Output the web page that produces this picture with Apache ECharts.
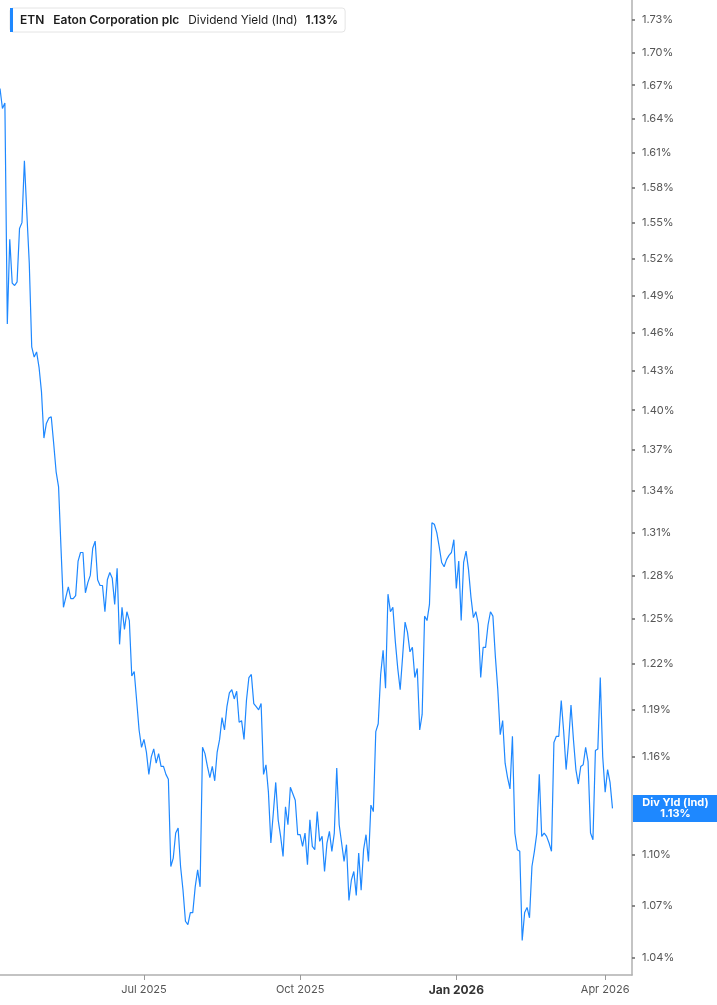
<!DOCTYPE html>
<html><head><meta charset="utf-8">
<script src="https://cdn.jsdelivr.net/npm/echarts@6/dist/echarts.min.js"></script>
<style>html,body{margin:0;padding:0;background:#fff}#c{width:717px;height:1005px}</style>
</head><body><div id="c"></div>
<script>
// ---- data ----
const startDate = [2025, 3, 4]; // first trading day shown (Apr 4 2025)
const holidays = ['2025-04-18','2025-05-26','2025-06-19','2025-07-04','2025-09-01','2025-11-27','2025-12-25','2026-01-01','2026-01-19','2026-02-16','2026-04-03'];
const extraDays = 8; // axis continues a few sessions past the last value
const values = [
1.667,1.649,1.654,1.467,1.536,1.500,1.498,1.501,1.545,1.550,
1.603,1.558,1.516,1.449,1.441,1.445,1.433,1.414,1.379,1.390,
1.394,1.395,1.375,1.354,1.343,1.299,1.258,1.265,1.272,1.264,
1.264,1.266,1.290,1.296,1.296,1.268,1.275,1.280,1.299,1.304,
1.277,1.273,1.273,1.255,1.277,1.282,1.278,1.260,1.285,1.233,
1.258,1.243,1.255,1.249,1.212,1.215,1.196,1.177,1.166,1.171,
1.163,1.149,1.160,1.165,1.156,1.162,1.154,1.154,1.149,1.146,
1.093,1.098,1.113,1.116,1.093,1.079,1.061,1.059,1.066,1.066,
1.081,1.091,1.081,1.166,1.162,1.154,1.147,1.154,1.145,1.163,
1.171,1.185,1.177,1.192,1.201,1.203,1.197,1.202,1.182,1.183,
1.171,1.196,1.211,1.213,1.194,1.192,1.190,1.194,1.149,1.155,
1.138,1.107,1.125,1.144,1.121,1.111,1.099,1.129,1.118,1.141,
1.137,1.133,1.112,1.112,1.105,1.113,1.094,1.121,1.105,1.103,
1.126,1.108,1.111,1.090,1.107,1.114,1.102,1.113,1.153,1.118,
1.107,1.096,1.106,1.073,1.085,1.090,1.076,1.101,1.079,1.103,
1.112,1.096,1.130,1.126,1.176,1.181,1.213,1.229,1.204,1.267,
1.255,1.258,1.235,1.217,1.203,1.225,1.248,1.241,1.228,1.231,
1.211,1.217,1.177,1.187,1.252,1.249,1.260,1.317,1.316,1.310,
1.300,1.289,1.286,1.291,1.294,1.296,1.305,1.271,1.290,1.249,
1.289,1.297,1.284,1.265,1.251,1.255,1.247,1.211,1.231,1.231,
1.246,1.255,1.252,1.225,1.203,1.174,1.183,1.156,1.147,1.140,
1.173,1.113,1.103,1.102,1.050,1.066,1.069,1.063,1.093,1.102,
1.113,1.149,1.111,1.113,1.111,1.107,1.102,1.169,1.173,1.173,
1.196,1.176,1.152,1.169,1.193,1.171,1.152,1.143,1.154,1.155,
1.166,1.157,1.113,1.109,1.164,1.165,1.211,1.160,1.138,1.152,
1.144,1.128
];
const yTicks = [1.04,1.07,1.10,1.16,1.19,1.22,1.25,1.28,1.31,1.34,1.37,1.40,1.43,1.46,1.49,1.52,1.55,1.58,1.61,1.64,1.67,1.70,1.73];
const yMin = 1.0305, yMax = 1.749;
const quarterMonths = [0, 3, 6, 9];
const monthNames = ['Jan','Feb','Mar','Apr','May','Jun','Jul','Aug','Sep','Oct','Nov','Dec'];
const tickerText = 'ETN', companyText = 'Eaton Corporation plc', metricText = 'Dividend Yield (Ind)';
const tagTitle = 'Div Yld (Ind)';

// ---- build ----
function pad(n){return n<10?'0'+n:''+n;}
function tradingDays(start, count){
  const out=[]; const d=new Date(Date.UTC(start[0],start[1],start[2]));
  while(out.length<count){
    const wd=d.getUTCDay();
    const s=d.getUTCFullYear()+'-'+pad(d.getUTCMonth()+1)+'-'+pad(d.getUTCDate());
    if(wd!==0&&wd!==6&&holidays.indexOf(s)<0) out.push(s);
    d.setUTCDate(d.getUTCDate()+1);
  }
  return out;
}
const categories = tradingDays(startDate, values.length + extraDays);
const quarterStart = new Set();
for(let i=1;i<categories.length;i++){
  const m=+categories[i].slice(5,7)-1, pm=+categories[i-1].slice(5,7)-1;
  if(m!==pm && quarterMonths.indexOf(m)>=0) quarterStart.add(i);
}
const last = values.length-1;
const lastVal = values[last];
const BLUE = '#1e88ff';

const chart = echarts.init(document.getElementById('c'), null, {renderer:'canvas'});
chart.setOption({
  animation:false,
  backgroundColor:'#fff',
  textStyle:{fontFamily:'Inter, "Noto Sans", sans-serif'},
  grid:{left:-1.5, right:85, top:0, bottom:30, containLabel:false},
  legend:{
    show:true, left:10, top:8, selectedMode:false,
    icon:'rect', itemWidth:3, itemHeight:24, itemGap:0,
    padding:[0,7,0,0], backgroundColor:'#fff', borderColor:'#e4e4e4', borderWidth:1, borderRadius:3,
    data:[{name:tickerText, itemStyle:{color:BLUE}}],
    formatter:()=> '{a|'+tickerText+'}{b|'+companyText+'}{c|'+metricText+'}{d|'+lastVal.toFixed(2)+'%}',
    textStyle:{
      fontSize:12, color:'#1c1c1c',
      rich:{
        a:{fontSize:12, fontWeight:600, color:'#1c1c1c', padding:[0,9,0,2], fontFamily:'Inter'},
        b:{fontSize:12, fontWeight:600, color:'#1c1c1c', padding:[0,9,0,0], fontFamily:'Inter'},
        c:{fontSize:11.8, fontWeight:400, color:'#1c1c1c', padding:[0,8,0,0], fontFamily:'Inter'},
        d:{fontSize:12, fontWeight:600, color:'#1c1c1c', fontFamily:'Inter'}
      }
    }
  },
  xAxis:{
    type:'category', data:categories, boundaryGap:false,
    axisLine:{show:true, lineStyle:{color:'#b0b0b0', width:1.5}},
    axisTick:{show:true, length:5, interval:(i)=>quarterStart.has(i), lineStyle:{color:'#9a9a9a', width:1}},
    axisLabel:{
      interval:(i)=>quarterStart.has(i), margin:9, fontSize:11, color:'#555', fontFamily:'Inter',
      formatter:(v)=>{
        const m=+v.slice(5,7)-1, y=v.slice(0,4);
        const t=monthNames[m]+' '+y;
        return m===0 ? '{j|'+t+'}' : t;
      },
      rich:{j:{fontSize:12, fontWeight:700, color:'#333', fontFamily:'Inter'}}
    },
    splitLine:{show:false}
  },
  yAxis:{
    type:'value', position:'right', scale:true,
    min:Math.log(yMin), max:Math.log(yMax),
    axisLine:{show:true, lineStyle:{color:'#b0b0b0', width:1.5}},
    axisTick:{show:true, length:3, customValues:yTicks.map(Math.log), lineStyle:{color:'#666', width:1.5}},
    axisLabel:{
      show:true, margin:10, fontSize:11, color:'#555', fontFamily:'Inter',
      customValues:yTicks.map(Math.log),
      formatter:(v)=>Math.exp(v).toFixed(2)+'%'
    },
    splitLine:{show:false}
  },
  series:[{
    name:tickerText, type:'line', data:values.map(Math.log), symbol:'none', smooth:false,
    lineStyle:{color:BLUE, width:1.2}, itemStyle:{color:BLUE},
    markPoint:{
      silent:true,
      data:[{coord:[last, Math.log(lastVal)], symbol:'rect', symbolSize:[85,27], symbolOffset:[63,0],
        itemStyle:{color:BLUE},
        label:{show:true, position:'inside', color:'#fff', fontSize:11, fontWeight:700, lineHeight:11, fontFamily:'Inter',
          formatter:()=>tagTitle+'\n'+lastVal.toFixed(2)+'%'}
      }]
    }
  }]
});
</script></body></html>
